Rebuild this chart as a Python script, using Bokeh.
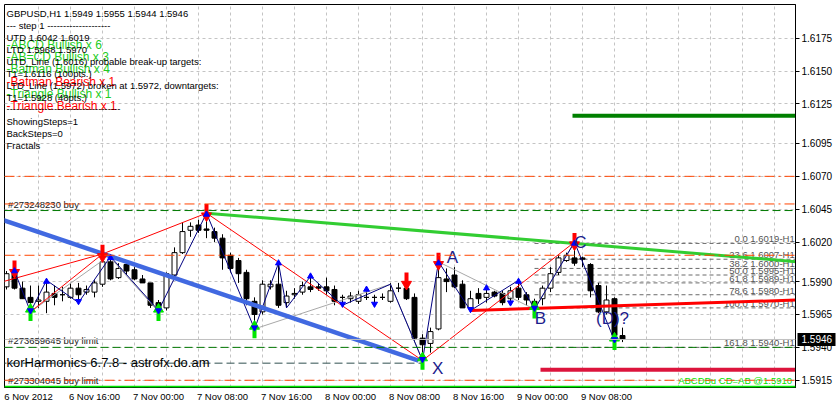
from bokeh.plotting import figure
from bokeh.models import Range1d, FixedTicker, Span, LinearAxis, PrintfTickFormatter
from bokeh.core.properties import value
from bokeh.embed import file_html
from bokeh.resources import INLINE

# ---------------- data ----------------
# hourly GBPUSD candles, bar 0 = 6 Nov 2012 08:00
opens = [1.5986, 1.5996, 1.5985, 1.5978, 1.5975, 1.5975, 1.5981, 1.5980, 1.5978, 1.5985,
         1.5982, 1.5982, 1.5988, 1.6005, 1.5993, 1.6003, 1.5999, 1.5992, 1.5989, 1.5974,
         1.5970, 1.5995, 1.6012, 1.6029, 1.6033, 1.6030, 1.6028, 1.6023, 1.6010, 1.6006,
         1.5997, 1.5975, 1.5967, 1.5986, 1.5988, 1.5974, 1.5980, 1.5982, 1.5986, 1.5986,
         1.5986, 1.5984, 1.5978, 1.5977, 1.5975, 1.5978, 1.5978, 1.5978, 1.5975, 1.5985,
         1.5985, 1.5978, 1.5947, 1.5943, 1.5954, 1.5992, 1.5995, 1.5988, 1.5970, 1.5981,
         1.5978, 1.5982, 1.5981, 1.5977, 1.5985, 1.5980, 1.5975, 1.5977, 1.5985, 1.5997,
         1.6006, 1.6008, 1.6008, 1.6003, 1.5987, 1.5967, 1.5977, 1.5949]
highs = [1.5998, 1.5999, 1.5990, 1.5987, 1.5987, 1.5991, 1.5987, 1.5986, 1.5989, 1.5989,
         1.5987, 1.5991, 1.6011, 1.6009, 1.6004, 1.6005, 1.6001, 1.5995, 1.5989, 1.5976,
         1.5997, 1.6016, 1.6035, 1.6035, 1.6037, 1.6042, 1.6031, 1.6026, 1.6012, 1.6008,
         1.5999, 1.5978, 1.5991, 1.5991, 1.6005, 1.5983, 1.5985, 1.5990, 1.5995, 1.5989,
         1.5993, 1.5987, 1.5980, 1.5982, 1.5983, 1.5985, 1.5980, 1.5981, 1.5989, 1.5989,
         1.5990, 1.5981, 1.5950, 1.5955, 1.6005, 1.6000, 1.6001, 1.5991, 1.5983, 1.5985,
         1.5986, 1.5983, 1.5983, 1.5986, 1.5991, 1.5982, 1.5977, 1.5987, 1.6001, 1.6010,
         1.6012, 1.6020, 1.6009, 1.6004, 1.5989, 1.5987, 1.5978, 1.5955]
lows = [1.5984, 1.5984, 1.5977, 1.5967, 1.5970, 1.5966, 1.5972, 1.5975, 1.5977, 1.5974,
        1.5980, 1.5978, 1.5986, 1.5991, 1.5992, 1.5995, 1.5991, 1.5989, 1.5970, 1.5967,
        1.5968, 1.5994, 1.6011, 1.6024, 1.6027, 1.6023, 1.6020, 1.5999, 1.5997, 1.5989,
        1.5972, 1.5954, 1.5965, 1.5984, 1.5970, 1.5970, 1.5977, 1.5980, 1.5982, 1.5983,
        1.5980, 1.5972, 1.5972, 1.5974, 1.5973, 1.5976, 1.5972, 1.5976, 1.5974, 1.5982,
        1.5976, 1.5944, 1.5930, 1.5936, 1.5953, 1.5982, 1.5985, 1.5970, 1.5968, 1.5973,
        1.5974, 1.5978, 1.5972, 1.5973, 1.5976, 1.5972, 1.5969, 1.5972, 1.5982, 1.5995,
        1.6005, 1.6002, 1.6001, 1.5978, 1.5966, 1.5965, 1.5945, 1.5944]
closes = [1.5996, 1.5985, 1.5977, 1.5974, 1.5976, 1.5982, 1.5978, 1.5980, 1.5985, 1.5980,
          1.5984, 1.5989, 1.6005, 1.5992, 1.6000, 1.5998, 1.5992, 1.5989, 1.5972, 1.5970,
          1.5996, 1.6012, 1.6028, 1.6032, 1.6029, 1.6029, 1.6023, 1.6008, 1.6000, 1.5996,
          1.5977, 1.5965, 1.5988, 1.5988, 1.5972, 1.5979, 1.5981, 1.5987, 1.5984, 1.5985,
          1.5983, 1.5975, 1.5978, 1.5979, 1.5980, 1.5978, 1.5978, 1.5978, 1.5983, 1.5985,
          1.5977, 1.5947, 1.5942, 1.5952, 1.5993, 1.5990, 1.5986, 1.5970, 1.5977, 1.5977,
          1.5981, 1.5979, 1.5974, 1.5983, 1.5978, 1.5976, 1.5972, 1.5985, 1.5996, 1.6008,
          1.6010, 1.6004, 1.6007, 1.5983, 1.5967, 1.5976, 1.5949, 1.5946]
bars = list(range(len(opens)))

time_tick_pos = [2.75, 11, 19, 27, 35, 43, 51, 59, 67, 75]
time_tick_labels = ["6 Nov 2012", "6 Nov 16:00", "7 Nov 00:00", "7 Nov 08:00", "7 Nov 16:00",
                    "8 Nov 00:00", "8 Nov 08:00", "8 Nov 16:00", "9 Nov 00:00", "9 Nov 08:00"]
price_ticks = [1.5915, 1.5940, 1.5965, 1.5990, 1.6020, 1.6045, 1.6070, 1.6095, 1.6125, 1.6150, 1.6175]

zigzag_bar = [1, 3, 5, 9, 13, 19, 25, 31, 34, 35, 38, 42, 48, 52, 54, 58, 64, 66, 71, 76]
zigzag_price = [1.5998, 1.5967, 1.5991, 1.5974, 1.6009, 1.5968, 1.6042, 1.5954, 1.6004, 1.5970,
                1.5994, 1.5972, 1.5988, 1.5930, 1.6005, 1.5968, 1.5991, 1.5969, 1.6020, 1.5945]

red_leg_bars = [[-1, 12], [3, 12], [12, 25], [25, 52], [52, 71]]
red_leg_prices = [[1.5989, 1.6011], [1.5967, 1.6011], [1.6011, 1.6042], [1.6042, 1.5930], [1.5930, 1.6020]]
gray_leg_bars = [[3, 12], [13, 19], [31, 48], [48, 52], [54, 66], [66, 71]]
gray_leg_prices = [[1.5967, 1.6006], [1.6008, 1.5967], [1.5954, 1.5988], [1.5988, 1.5930],
                   [1.6005, 1.5969], [1.5969, 1.6020]]

fractal_up_bars = [1, 12, 25, 50, 54, 71]
fractal_down_bars = [3, 19, 31, 52, 66, 76]
swing_high_bars = [1, 5, 13, 25, 34, 38, 45, 54, 60, 64, 71]
swing_low_bars = [3, 9, 19, 31, 42, 46, 52, 58, 63, 66, 76]

point_names = ["X", "A", "B", "C", "(D)?"]
point_bars = [53.9, 55.75, 66.75, 71.75, 75.75]
point_prices = [1.5924, 1.6008, 1.5962, 1.6020, 1.5962]

orange_levels = [1.6070, 1.6049, 1.6010, 1.5915]
order_levels = [1.6044, 1.5940, 1.5910]
order_labels = ["#273248230 buy", "#273659645 buy limit", "#273304045 buy limit"]

fib_names = ["0.0", "23.6", "38.2", "50.0", "61.8", "78.6", "100.0", "161.8"]
fib_prices = [1.6019, 1.6007, 1.6000, 1.5995, 1.5989, 1.5980, 1.5970, 1.5940]
fib_start_bar = 66

utd_line_bars, utd_line_prices = [25, 99], [1.6042, 1.6005]
ltd_line_bars, ltd_line_prices = [58, 99], [1.5968, 1.5976]
support_bars, support_prices = [-1, 51.5], [1.6038, 1.5930]
x_level_bars, x_level_price = [-1, 52], 1.5928
up_target_bar, up_target = 70.75, 1.6116
down_target_bar, down_target = 66.75, 1.5923
abcd_target = 1.5910
bid = 1.5946

info_lines = ["GBPUSD,H1  1.5949 1.5955 1.5944 1.5946",
              "---   step 1   --------------------",
              "UTD 1.6042  1.6019",
              "LTD  1.5968  1.5970",
              "UTD_Line (1.6016) probable break-up targets:",
              "T1=1.6116 (100pts.)",
              "LTD_Line (1.5972) broken at 1.5972, downtargets:",
              "T1=1.5928 (48pts.)",
              "------------------------------------",
              "ShowingSteps=1",
              "BackSteps=0",
              "Fractals"]
pattern_lines = ["-ABCD Bullish x 6", "-AB=CD Bullish x 3", "-Batman Bullish x 4",
                 "-Batman Bearish x 1", "-Triangle Bullish x 1", "-Triangle Bearish x 1"]

# ---------------- figure ----------------
FONT = value("Liberation Sans")
X0, X1 = -0.25, 98.625
p = figure(width=837, height=407, output_backend="svg", toolbar_location=None,
           x_range=Range1d(X0, X1), y_range=Range1d(1.59095, 1.62006),
           y_axis_location="right", min_border_left=4, min_border_top=4,
           min_border_bottom=20, min_border_right=42)
p.background_fill_color = "white"
p.border_fill_color = "white"
p.outline_line_color = "black"
p.outline_line_width = 1

# axes
p.yaxis.ticker = FixedTicker(ticks=price_ticks)
p.yaxis.formatter = PrintfTickFormatter(format="%.4f")
p.yaxis.major_tick_out = 4
p.yaxis.major_tick_in = 0
p.yaxis.minor_tick_out = 0
p.yaxis.minor_tick_in = 0
p.yaxis.major_label_standoff = 2
p.yaxis.major_label_text_font = "Liberation Sans"
p.yaxis.major_label_text_font_size = "10px"
p.yaxis.major_label_text_color = "black"
p.yaxis.axis_line_color = "black"

# bid tag: a second right axis whose single inward tick is a black box
bid_axis = LinearAxis(ticker=FixedTicker(ticks=[bid]),
                      formatter=PrintfTickFormatter(format="%.4f"))
bid_axis.axis_line_color = None
bid_axis.major_tick_out = 0
bid_axis.major_tick_in = 38
bid_axis.major_tick_line_width = 13
bid_axis.major_tick_line_color = "black"
bid_axis.major_tick_line_cap = "butt"
bid_axis.minor_tick_out = 0
bid_axis.minor_tick_in = 0
bid_axis.major_label_standoff = -34
bid_axis.major_label_text_font = "Liberation Sans"
bid_axis.major_label_text_font_size = "10px"
bid_axis.major_label_text_color = "white"
p.add_layout(bid_axis, "right")

p.xaxis.ticker = FixedTicker(ticks=time_tick_pos)
p.xaxis.major_label_overrides = dict(zip(time_tick_pos, time_tick_labels))
p.xaxis.major_tick_out = 0
p.xaxis.major_tick_in = 0
p.xaxis.minor_tick_out = 0
p.xaxis.minor_tick_in = 0
p.xaxis.major_label_standoff = 3
p.xaxis.major_label_text_font = "Liberation Sans"
p.xaxis.major_label_text_font_size = "9.5px"
p.xaxis.major_label_text_color = "black"
p.xaxis.axis_line_color = "black"

p.xgrid.ticker = FixedTicker(ticks=list(range(4, 99, 4)))
for g in (p.xgrid, p.ygrid):
    g.grid_line_color = "#C4C4C4"
    g.grid_line_dash = "3 3"
    g.grid_line_width = 1

# horizontal levels
for lvl in orange_levels:
    p.add_layout(Span(location=lvl, dimension="width", line_color="#FF4500",
                      line_dash="10 4 2 4", line_width=1))
for lvl in order_levels:
    p.add_layout(Span(location=lvl, dimension="width", line_color="#007800",
                      line_dash="8 4", line_width=1))
p.add_layout(Span(location=bid, dimension="width", line_color="#C0C0C0", line_width=1))
p.add_layout(Span(location=abcd_target, dimension="width", line_color="#00E600", line_width=2))

p.segment(x0=[x_level_bars[0]], x1=[x_level_bars[1]], y0=[x_level_price], y1=[x_level_price],
          line_color="#2F4F4F", line_dash="8 4", line_width=1)

# fibonacci levels
p.segment(x0=[fib_start_bar] * len(fib_prices), x1=[X1] * len(fib_prices),
          y0=fib_prices, y1=fib_prices, line_color="#6A6A6A", line_dash="4 3", line_width=1)
p.text(x=[X1 - 0.1] * len(fib_prices), y=fib_prices,
       text=[f"{n} {v:.4f}-H1" for n, v in zip(fib_names, fib_prices)],
       text_font=FONT, text_font_size="9.5px", text_color="#555555",
       text_align="right", text_baseline="bottom", y_offset=1)

# candles
p.segment(x0=bars, x1=bars, y0=lows, y1=highs, line_color="black", line_width=1)
tops = [max(o, c) for o, c in zip(opens, closes)]
bottoms = [min(o, c) for o, c in zip(opens, closes)]
fills = ["white" if c >= o else "black" for o, c in zip(opens, closes)]
p.vbar(x=bars, top=tops, bottom=bottoms, width=0.62, fill_color=fills,
       line_color="black", line_width=1)

# pattern legs
p.multi_line(xs=gray_leg_bars, ys=gray_leg_prices, line_color="#A8A8A8", line_width=1)
p.multi_line(xs=red_leg_bars, ys=red_leg_prices, line_color="#FF0000", line_width=1)
p.line(zigzag_bar, zigzag_price, line_color="#000080", line_width=1)

# trend lines and targets
p.line(support_bars, support_prices, line_color="#4169E1", line_width=4.5)
p.line(utd_line_bars, utd_line_prices, line_color="#32CD32", line_width=3)
p.line(ltd_line_bars, ltd_line_prices, line_color="#FF0000", line_width=3)
p.segment(x0=[up_target_bar], x1=[X1], y0=[up_target], y1=[up_target],
          line_color="#008000", line_width=4)
p.segment(x0=[down_target_bar], x1=[X1], y0=[down_target], y1=[down_target],
          line_color="#DC143C", line_width=4)

# fractal arrows
fu_hi = [highs[i] for i in fractal_up_bars]
p.segment(x0=fractal_up_bars, x1=fractal_up_bars, y0=[h + 0.0007 for h in fu_hi],
          y1=[h for h in fu_hi], line_color="#FF0000", line_width=4)
p.scatter(x=fractal_up_bars, y=[h - 0.0002 for h in fu_hi], marker="inverted_triangle",
          size=10, fill_color="#FF0000", line_color="#FF0000")
fd_lo = [lows[i] for i in fractal_down_bars]
p.segment(x0=fractal_down_bars, x1=fractal_down_bars, y0=[l - 0.0007 for l in fd_lo],
          y1=[l for l in fd_lo], line_color="#00E600", line_width=4)
p.scatter(x=fractal_down_bars, y=[l + 0.0002 for l in fd_lo], marker="triangle",
          size=10, fill_color="#00E600", line_color="#00E600")

# small swing arrows
p.scatter(x=swing_high_bars, y=[highs[i] - 0.0001 for i in swing_high_bars], marker="triangle",
          size=6, fill_color="#0000FF", line_color="#0000FF")
p.scatter(x=swing_low_bars, y=[lows[i] + 0.0001 for i in swing_low_bars], marker="inverted_triangle",
          size=6, fill_color="#0000FF", line_color="#0000FF")

# point names
p.text(x=point_bars, y=point_prices, text=point_names, text_font=FONT, text_font_size="17px",
       text_color="#1C1C8C", text_align="center", text_baseline="middle")

# order labels
p.text(x=[0.2] * len(order_levels), y=order_levels, text=order_labels, text_font=FONT,
       text_font_size="9.5px", text_color="#202020", text_align="left",
       text_baseline="bottom", y_offset=-1)
p.text(x=[X1 - 0.1], y=[abcd_target], text=["ABCDBu CD=AB  @1.5910"], text_font=FONT,
       text_font_size="9.5px", text_color="#00E600", text_align="right",
       text_baseline="bottom", y_offset=-1)
p.text(x=[0.0], y=[1.59285], text=["korHarmonics 6.7.8 - astrofx.do.am"], text_font=FONT,
       text_font_size="13px", text_color="black", text_align="left", text_baseline="middle")

# pattern summary (coloured) then info block (black)
pat_top, pat_step = 1.61698, 0.000925
p.text(x=[0.0] * len(pattern_lines),
       y=[pat_top - k * pat_step for k in range(len(pattern_lines))],
       text=pattern_lines, text_font=FONT, text_font_size="12px",
       text_color=["#22CC22" if "Bullish" in s else "#FF0000" for s in pattern_lines],
       text_align="left", text_baseline="middle")
info_top, info_step = 1.61938, 0.000912
p.text(x=[0.0] * len(info_lines),
       y=[info_top - k * info_step for k in range(len(info_lines))],
       text=info_lines, text_font=FONT, text_font_size="9.5px", text_color="black",
       text_align="left", text_baseline="middle")

open("out.html", "w").write(file_html(p, INLINE))
